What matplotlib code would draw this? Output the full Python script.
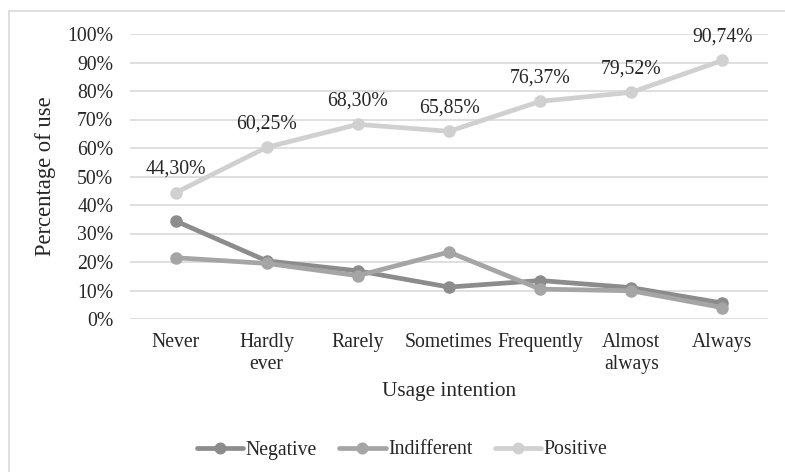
import matplotlib
matplotlib.use("Agg")
import matplotlib.pyplot as plt
from matplotlib.patches import Rectangle
from matplotlib.ticker import FuncFormatter, MultipleLocator

categories = ["Never", "Hardly\never", "Rarely", "Sometimes", "Frequently", "Almost\nalways", "Always"]
negative = [34.4, 20.4, 16.9, 11.2, 13.5, 11.0, 5.6]
indifferent = [21.5, 19.5, 15.2, 23.5, 10.5, 9.9, 4.0]
positive = [44.30, 60.25, 68.30, 65.85, 76.37, 79.52, 90.74]
positive_labels = ["44,30%", "60,25%", "68,30%", "65,85%", "76,37%", "79,52%", "90,74%"]

plt.rcParams['font.family'] = ['Liberation Serif', 'DejaVu Serif']
fs = 14.2

fig = plt.figure(figsize=(7.85, 4.72), dpi=100)
ax = fig.add_axes([130/785, 1-319/472, (768-130)/785, (319-34)/472])

x = list(range(len(categories)))
series = [("Negative", negative, "#8c8c8c"),
          ("Indifferent", indifferent, "#a5a5a5"),
          ("Positive", positive, "#d0d0d0")]
for name, vals, col in series:
    ax.plot(x, vals, color=col, lw=3.4, marker="o", ms=8, label=name,
            solid_capstyle="round", zorder=3)

for xi, v, lab in zip(x, positive, positive_labels):
    ax.annotate(lab, (xi, v), xytext=(0, 10), textcoords="offset points",
                ha="center", va="bottom", fontsize=fs, color="#262626")

ax.set_xlim(-0.5, len(categories) - 0.5)
ax.set_ylim(0, 100)
ax.yaxis.set_major_locator(MultipleLocator(10))
ax.yaxis.set_major_formatter(FuncFormatter(lambda v, p: f"{int(round(v))}%"))
ax.set_xticks(x)
ax.set_xticklabels(categories, fontsize=fs, color="#262626", linespacing=1.22)
ax.tick_params(axis="y", labelsize=fs, colors="#262626", length=0, pad=12)
ax.tick_params(axis="x", length=0, pad=10)
ax.grid(axis="y", color="#d9d9d9", lw=1.2)
ax.set_axisbelow(True)
for s in ax.spines.values():
    s.set_visible(False)

ax.set_ylabel("Percentage of use", fontsize=16.3, color="#262626", labelpad=8)
ax.set_xlabel("Usage intention", fontsize=15.3, color="#262626", labelpad=6)

leg = fig.legend(loc="center", bbox_to_anchor=(402/785, 1-450/472), ncol=3,
                 frameon=False, fontsize=fs, handlelength=2.35, columnspacing=1.15,
                 handletextpad=0.12, markerscale=0.95)
for t in leg.get_texts():
    t.set_color("#262626")

fig.patches.append(Rectangle((8.5/785, -0.05), 1.2, 1 - 10.5/472 + 0.05,
                             transform=fig.transFigure, fill=False,
                             edgecolor="#d9d9d9", lw=1.2))

fig.savefig("out.png", dpi=100)
